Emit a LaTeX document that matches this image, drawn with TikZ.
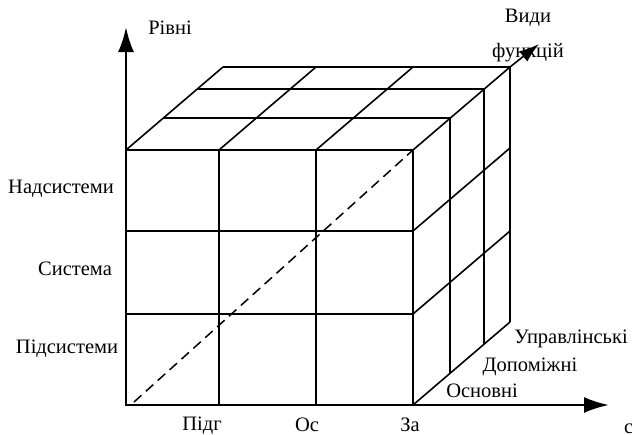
\documentclass[tikz,border=0pt]{standalone}
\usepackage{fontspec}
\setmainfont{Liberation Serif}
\usetikzlibrary{arrows.meta}

\begin{document}
\begin{tikzpicture}[x=1pt, y=-1pt,
        grid/.style={line width=1.6pt},
        axis/.style={line width=2.6pt, -{Latex[length=25pt, width=16pt]}},
        diag/.style={line width=1.6pt, -{Latex[length=20pt, width=13pt]}},
        dashline/.style={line width=1.5pt, dash pattern=on 10pt off 6pt},
        lbl/.style={anchor=base, inner sep=0pt, font=\fontsize{20.5}{24}\selectfont}
    ]
        \useasboundingbox (0,0) rectangle (632,434);

        % cube corners
        \coordinate (o) at (126,405);
        \coordinate (ftr) at (413,150);
        \coordinate (btr) at (510,67);
        \coordinate (yend) at (126,27);
        \coordinate (xend) at (609,405);
        \coordinate (zend) at (539,44);

        % front face
        \draw[grid] (126,150) rectangle (413,405);
        \draw[grid] (219,150) -- (219,405);
        \draw[grid] (316,150) -- (316,405);
        \draw[grid] (126,231) -- (413,231);
        \draw[grid] (126,314) -- (413,314);

        % top face
        \draw[grid] (163,118) -- (450,118);
        \draw[grid] (197,89) -- (484,89);
        \draw[grid] (223,67) -- (btr);
        \draw[grid] (126,150) -- (223,67);
        \draw[grid] (219,150) -- (316,67);
        \draw[grid] (316,150) -- (413,67);
        \draw[grid] (ftr) -- (btr);

        % right face
        \draw[grid] (450,118) -- (450,373);
        \draw[grid] (484,89) -- (484,344);
        \draw[grid] (btr) -- (510,322);
        \draw[grid] (413,231) -- (510,148);
        \draw[grid] (413,314) -- (510,231);
        \draw[grid] (413,405) -- (510,322);

        % axes
        \draw[axis] (o) -- (yend);
        \draw[axis] (o) -- (xend);
        \draw[diag] (btr) -- (zend);
        \draw[dashline] (134,402) -- (ftr);

        % labels
        \node[lbl] (rivni) at (170,34) {Рівні};
        \node[lbl] (nad) at (61,193) {Надсистеми};
        \node[lbl] (sys) at (75,275) {Система};
        \node[lbl] (pid) at (67,353) {Підсистеми};
        \node[lbl] (pidg) at (202,430) {Підг};
        \node[lbl] (os) at (307,431) {Ос};
        \node[lbl] (za) at (410,431) {За};
        \node[lbl, anchor=base west] (cut) at (624,433) {с};
        \node[lbl] (vydy) at (528,22) {Види};
        \node[lbl] (funk) at (528,57) {функцій};
        \node[lbl] (upr) at (571,343) {Управлінські};
        \node[lbl] (dop) at (530,371) {Допоміжні};
        \node[lbl] (osn) at (482,397) {Основні};
    \end{tikzpicture}
\end{document}
